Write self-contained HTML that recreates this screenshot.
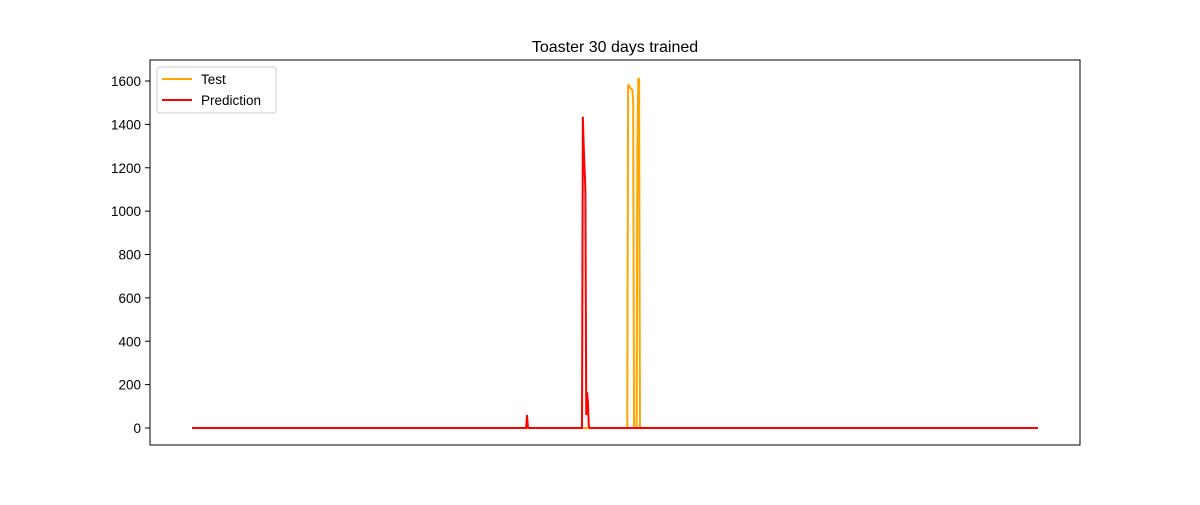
<!DOCTYPE html>
<html><head><meta charset="utf-8"><style>
body{margin:0;background:#fff;font-family:"Liberation Sans","DejaVu Sans",sans-serif}
</style></head><body>
<svg width="1200" height="500" id="c" xmlns="http://www.w3.org/2000/svg">
<rect width="1200" height="500" fill="#fff"/>
<text x="615" y="52" font-size="16" text-anchor="middle">Toaster 30 days trained</text>
<g id="ticks"></g>
<polyline id="test" fill="none" stroke="orange" stroke-width="2"/>
<polyline id="pred" fill="none" stroke="red" stroke-width="2"/>
<rect x="150" y="60" width="930" height="385" fill="none" stroke="#000" stroke-width="1"/>
<g>
<rect x="157" y="67" width="119" height="46" rx="3" fill="#fff" stroke="#ccc"/>
<line x1="162" y1="79" x2="192" y2="79" stroke="orange" stroke-width="2"/>
<text x="201" y="84" font-size="13.5">Test</text>
<line x1="162" y1="100" x2="192" y2="100" stroke="red" stroke-width="2"/>
<text x="201" y="105" font-size="13.5">Prediction</text>
</g>
</svg>
<script>
const yTicks=[0,200,400,600,800,1000,1200,1400,1600];
const testX=[0,514.5,515.5,516.5,518.5,520.5,521.5,522.5,525.5,526.5,527.5,528.5,529.5,1000];
const testY=[0,0,1580,1580,1565,1560,1500,0,0,1300,1610,1610,0,0];
const predX=[0,395,396,397,398,461,462,463,465,466,467,468,469,470,1000];
const predY=[0,0,60,5,0,0,1435,1300,1100,60,165,120,10,0,0];
const sx=v=>192+v*0.846;
const sy=v=>428-v*(347/1600);
const g=document.getElementById('ticks');
const NS='http://www.w3.org/2000/svg';
yTicks.forEach(t=>{
 const l=document.createElementNS(NS,'line');
 l.setAttribute('x1',145);l.setAttribute('x2',150);l.setAttribute('y1',sy(t));l.setAttribute('y2',sy(t));l.setAttribute('stroke','#000');
 
 
 g.appendChild(l);
 const tx=document.createElementNS(NS,'text');
 tx.setAttribute('x',141);tx.setAttribute('y',sy(t)+5);tx.setAttribute('text-anchor','end');tx.setAttribute('font-size','13.5');
 tx.textContent=t;
 
 
 g.appendChild(tx);
});
document.getElementById('test').setAttribute('points',testX.map((x,i)=>sx(x)+','+sy(testY[i])).join(' '));
document.getElementById('pred').setAttribute('points',predX.map((x,i)=>sx(x)+','+sy(predY[i])).join(' '));
</script>
</body></html>
